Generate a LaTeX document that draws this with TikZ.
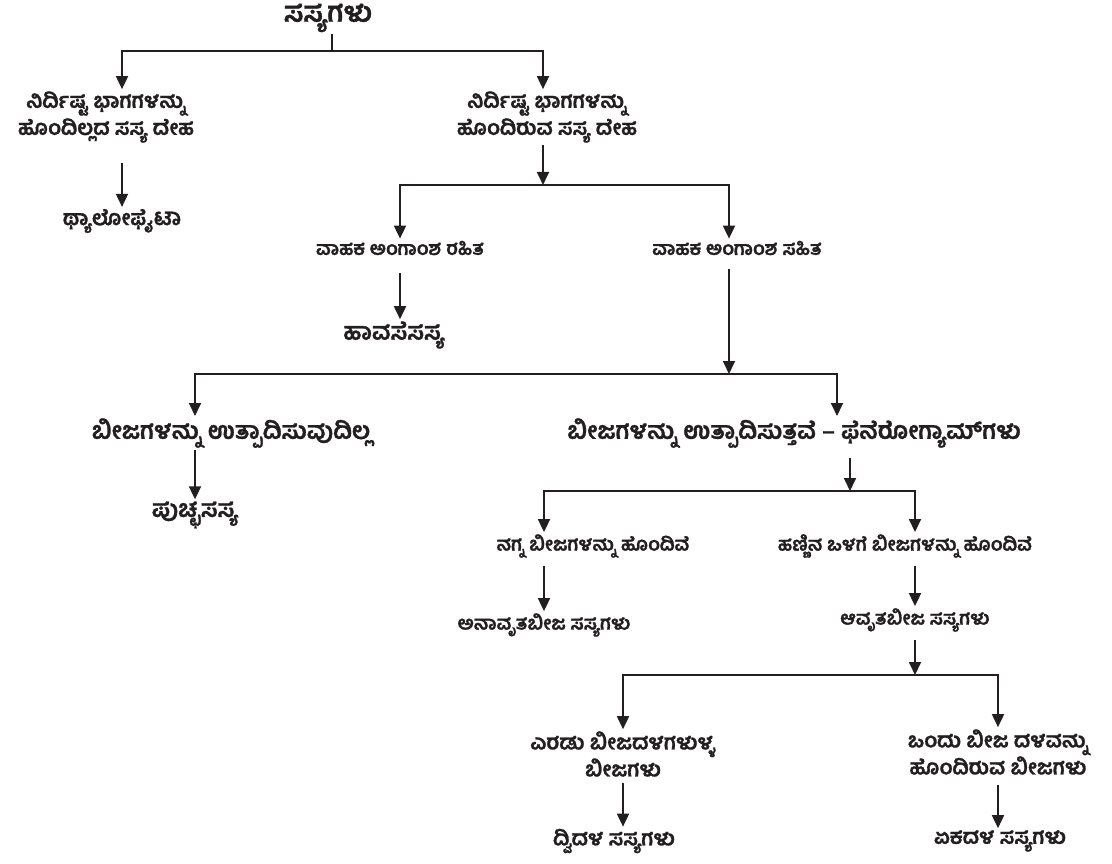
\documentclass[tikz,border=0pt]{standalone}
\usepackage{fontspec}
\newfontfamily\kan[Script=Kannada, BoldFeatures={FakeBold=1.2}]{Hind Mysuru}
\usetikzlibrary{arrows.meta, calc}
\definecolor{ink}{HTML}{231F20}

\begin{document}
\begin{tikzpicture}[
    x=1pt, y=-1pt,
    every node/.style={inner sep=2pt, text=ink},
    top/.style={font=\kan\bfseries\fontsize{28}{32}\selectfont},
    big/.style={font=\kan\bfseries\fontsize{24}{30}\selectfont},
    mid/.style={font=\kan\bfseries\fontsize{21}{27}\selectfont, align=center},
    small/.style={font=\kan\bfseries\fontsize{19}{24}\selectfont},
    link/.style={draw=ink, line width=1.8pt},
    arrow/.style={link, -{Triangle[width=12pt, length=13pt]}}
]
\useasboundingbox (0,0) rectangle (1112,864);

% Nodes
\node[top] (plants) at (328,18) {ಸಸ್ಯಗಳು};
\node[mid] (l1) at (106,117) {ನಿರ್ದಿಷ್ಟ ಭಾಗಗಳನ್ನು\\ಹೊಂದಿಲ್ಲದ ಸಸ್ಯ ದೇಹ};
\node[mid] (r1) at (547,117) {ನಿರ್ದಿಷ್ಟ ಭಾಗಗಳನ್ನು\\ಹೊಂದಿರುವ ಸಸ್ಯ ದೇಹ};
\node[mid] (thal) at (122,221) {ಥ್ಯಾಲೋಫೈಟಾ};
\node[small] (vr) at (400,248) {ವಾಹಕ ಅಂಗಾಂಶ ರಹಿತ};
\node[small] (vs) at (737,248) {ವಾಹಕ ಅಂಗಾಂಶ ಸಹಿತ};
\node[big] (hava) at (394,335) {ಹಾವಸೆಸಸ್ಯ};
\node[big] (ns) at (231,433) {ಬೀಜಗಳನ್ನು ಉತ್ಪಾದಿಸುವುದಿಲ್ಲ};
\node[big] (ys) at (794,433) {ಬೀಜಗಳನ್ನು ಉತ್ಪಾದಿಸುತ್ತವೆ – ಫೆನೆರೋಗ್ಯಾಮ್‌ಗಳು};
\node[big] (pucc) at (195,515) {ಪುಚ್ಛಸಸ್ಯ};
\node[small] (nagna) at (593,546) {ನಗ್ನ ಬೀಜಗಳನ್ನು ಹೊಂದಿವೆ};
\node[small] (hann) at (905,546) {ಹಣ್ಣಿನ ಒಳಗೆ ಬೀಜಗಳನ್ನು ಹೊಂದಿವೆ};
\node[small] (anav) at (544,625) {ಅನಾವೃತಬೀಜ ಸಸ್ಯಗಳು};
\node[small] (avrt) at (915,620) {ಆವೃತಬೀಜ ಸಸ್ಯಗಳು};
\node[mid] (erad) at (623,754) {ಎರಡು ಬೀಜದಳಗಳುಳ್ಳ\\ಬೀಜಗಳು};
\node[mid] (ondu) at (998,752) {ಒಂದು ಬೀಜ ದಳವನ್ನು\\ಹೊಂದಿರುವ ಬೀಜಗಳು};
\node[mid] (dvi) at (614,841) {ದ್ವಿದಳ ಸಸ್ಯಗಳು};
\node[mid] (eka) at (1000,841) {ಏಕದಳ ಸಸ್ಯಗಳು};

% Junctions
\coordinate (j1) at (332,51);
\coordinate (j2) at (543,185);
\coordinate (j3) at (729,374);
\coordinate (j4) at (850,491);
\coordinate (j5) at (915,675);

% Paths
\draw[link] (plants.south -| j1) -- (j1);
\draw[arrow] (j1) -| (l1.north -| thal.north);
\draw[arrow] (j1) -| (r1.north -| j2);
\draw[arrow, shorten <=18pt] (thal.north |- l1.south) -- (thal.north);

\draw[arrow] (r1.south -| j2) -- (j2);
\draw[arrow] (j2) -| (vr.north);
\draw[arrow] (j2) -| (vs.north -| j3);
\draw[arrow, shorten <=16pt] (vr.south) -- (vr.south |- hava.north);

\draw[arrow, shorten <=12pt] (vs.south -| j3) -- (j3);
\draw[arrow] (j3) -| (ns.north -| pucc.north);
\draw[arrow] (j3) -| ($(ys.north)+(43,0)$);
\draw[arrow] (pucc.north |- ns.south) -- (pucc.north);

\draw[arrow, shorten <=8pt] (ys.south -| j4) -- (j4);
\draw[arrow] (j4) -| (nagna.north -| anav.north);
\draw[arrow] (j4) -| (hann.north -| avrt.north);
\draw[arrow, shorten <=6pt] (anav.north |- nagna.south) -- (anav.north);
\draw[arrow, shorten <=6pt] (avrt.north |- hann.south) -- (avrt.north);

\draw[arrow, shorten <=6pt] (avrt.south -| j5) -- (j5);
\draw[arrow] (j5) -| (erad.north);
\draw[arrow] (j5) -| (ondu.north);
\draw[arrow, shorten <=4pt] (erad.south) -- (erad.south |- dvi.north);
\draw[arrow, shorten <=8pt] (ondu.south) -- (ondu.south |- eka.north);

\end{tikzpicture}
\end{document}
